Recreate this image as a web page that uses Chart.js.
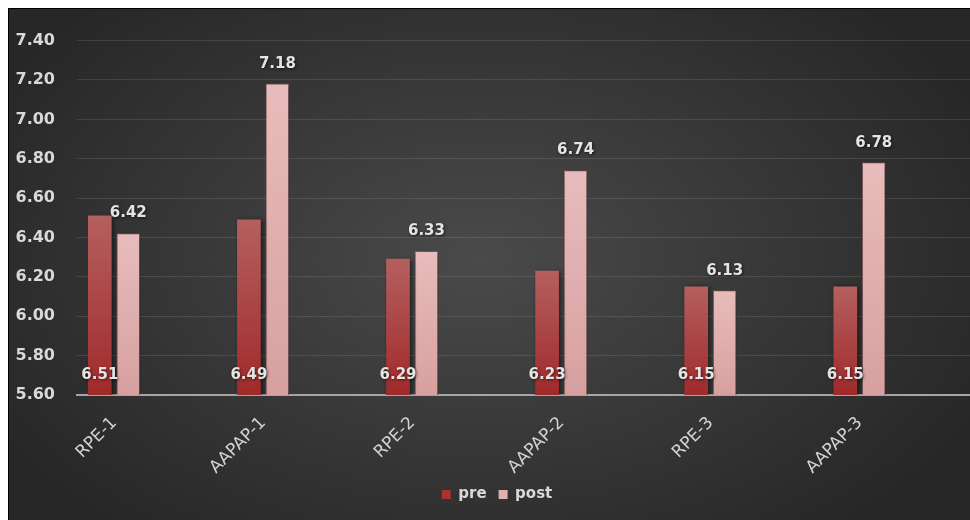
<!DOCTYPE html>
<html>
<head>
<meta charset="utf-8">
<script src="https://cdn.jsdelivr.net/npm/chart.js@4/dist/chart.umd.min.js"></script>
<style>
  body { margin: 0; background: #fff; overflow: hidden; }
  #wrap { position: absolute; left: 8px; top: 8px; width: 976px; height: 511px; border-left: 1px solid #000; border-top: 1px solid #000; }
  canvas { display: block; }
</style>
</head>
<body>
<div id="wrap"><canvas id="chart" width="976" height="511"></canvas></div>
<script>
const categories = ['RPE-1', 'AAPAP-1', 'RPE-2', 'AAPAP-2', 'RPE-3', 'AAPAP-3'];
const preVals = [6.51, 6.49, 6.29, 6.23, 6.15, 6.15];
const postVals = [6.42, 7.18, 6.33, 6.74, 6.13, 6.78];
const seriesNames = ['pre', 'post'];

const numFont = '"DejaVu Sans", sans-serif';
const legendColors = ['#a83232', '#e3b0b0'];

// bars sit left of the category centre, as in the original sheet
const preShift = -0.097, postShift = 0.094;

function barGradient(top, bottom) {
    return function(ctx) {
        const chart = ctx.chart;
        if (!chart.chartArea || ctx.parsed == null) return top;
        const y = chart.scales.y;
        const g = chart.ctx.createLinearGradient(0, y.getPixelForValue(ctx.parsed.y), 0, y.getPixelForValue(y.min));
        g.addColorStop(0, top);
        g.addColorStop(1, bottom);
        return g;
    };
}

const bgPlugin = {
    id: 'bg',
    beforeDraw(chart) {
        const c = chart.ctx, w = chart.width, h = chart.height;
        c.save();
        c.translate(470, 250);
        c.scale(1, 0.62);
        const g = c.createRadialGradient(0, 0, 0, 0, 0, 560);
        g.addColorStop(0, '#4a4a4a');
        g.addColorStop(1, '#272727');
        c.fillStyle = g;
        c.fillRect(-470, -250 / 0.62, w, h / 0.62);
        c.restore();
    }
};

const shadowPlugin = {
    id: 'barShadow',
    beforeDatasetDraw(chart) {
        const c = chart.ctx;
        c.save();
        c.shadowColor = 'rgba(0,0,0,0.55)';
        c.shadowBlur = 5;
        c.shadowOffsetX = 2;
        c.shadowOffsetY = 1;
    },
    afterDatasetDraw(chart) { chart.ctx.restore(); }
};

const labelPlugin = {
    id: 'valueLabels',
    afterDatasetsDraw(chart) {
        const c = chart.ctx;
        const base = chart.scales.y.getPixelForValue(chart.scales.y.min);
        c.save();
        c.font = 'bold 15px ' + numFont;
        c.textAlign = 'center';
        c.textBaseline = 'middle';
        c.fillStyle = '#e4e4e4';
        c.shadowColor = 'rgba(0,0,0,0.6)';
        c.shadowBlur = 3;
        c.shadowOffsetX = 1;
        c.shadowOffsetY = 1;
        chart.data.datasets.forEach((ds, di) => {
            chart.getDatasetMeta(di).data.forEach((bar, i) => {
                const txt = ds.data[i].y.toFixed(2);
                if (di === 0) c.fillText(txt, bar.x, base - 20);
                else c.fillText(txt, bar.x, bar.y - 20);
            });
        });
        c.restore();
    }
};

new Chart(document.getElementById('chart'), {
    type: 'bar',
    data: {
        datasets: [
            { label: seriesNames[0], data: preVals.map((v, i) => ({ x: i + preShift, y: v })),
              backgroundColor: barGradient('#b55f5f', '#a02a2a') },
            { label: seriesNames[1], data: postVals.map((v, i) => ({ x: i + postShift, y: v })),
              backgroundColor: barGradient('#e8bcbc', '#d7a0a0'), borderColor: 'rgba(170,110,110,0.6)', borderWidth: 1 }
        ]
    },
    options: {
        responsive: false,
        animation: false,
        devicePixelRatio: 1,
        grouped: false,
        barThickness: 23,
        layout: { padding: { left: 0, top: 24, right: 0, bottom: 8 } },
        scales: {
            x: {
                type: 'linear',
                offset: false,
                min: -0.25,
                max: 5.84,
                afterFit(s) { s.height = 80; s.paddingLeft = 0; s.paddingRight = 0; },
                grid: { display: false, offset: false },
                border: { display: true, color: '#a6a6a6', width: 2 },
                ticks: {
                    stepSize: 1,
                    autoSkip: false,
                    minRotation: 45,
                    maxRotation: 45,
                    padding: 10,
                    color: '#d4d4d4',
                    font: { family: numFont, size: 17 },
                    callback: v => Math.abs(v - Math.round(v)) < 1e-6 ? categories[Math.round(v)] : ''
                }
            },
            y: {
                min: 5.6,
                max: 7.4,
                afterFit(s) { s.width = 68; },
                grid: { color: 'rgba(255,255,255,0.11)', drawTicks: false },
                border: { display: false },
                ticks: {
                    stepSize: 0.2,
                    padding: 22,
                    color: '#d9d9d9',
                    font: { family: numFont, size: 16, weight: 'bold' },
                    callback: v => v.toFixed(2)
                }
            }
        },
        plugins: {
            tooltip: { enabled: false },
            legend: {
                position: 'bottom',
                labels: {
                    boxWidth: 9,
                    boxHeight: 9,
                    padding: 12,
                    color: '#d9d9d9',
                    font: { family: numFont, size: 15, weight: 'bold' },
                    generateLabels: c => Chart.defaults.plugins.legend.labels.generateLabels(c).map((l, i) =>
                        Object.assign(l, { fillStyle: legendColors[i], strokeStyle: legendColors[i], lineWidth: 0 }))
                }
            }
        }
    },
    plugins: [bgPlugin, shadowPlugin, labelPlugin]
});
</script>
</body>
</html>
